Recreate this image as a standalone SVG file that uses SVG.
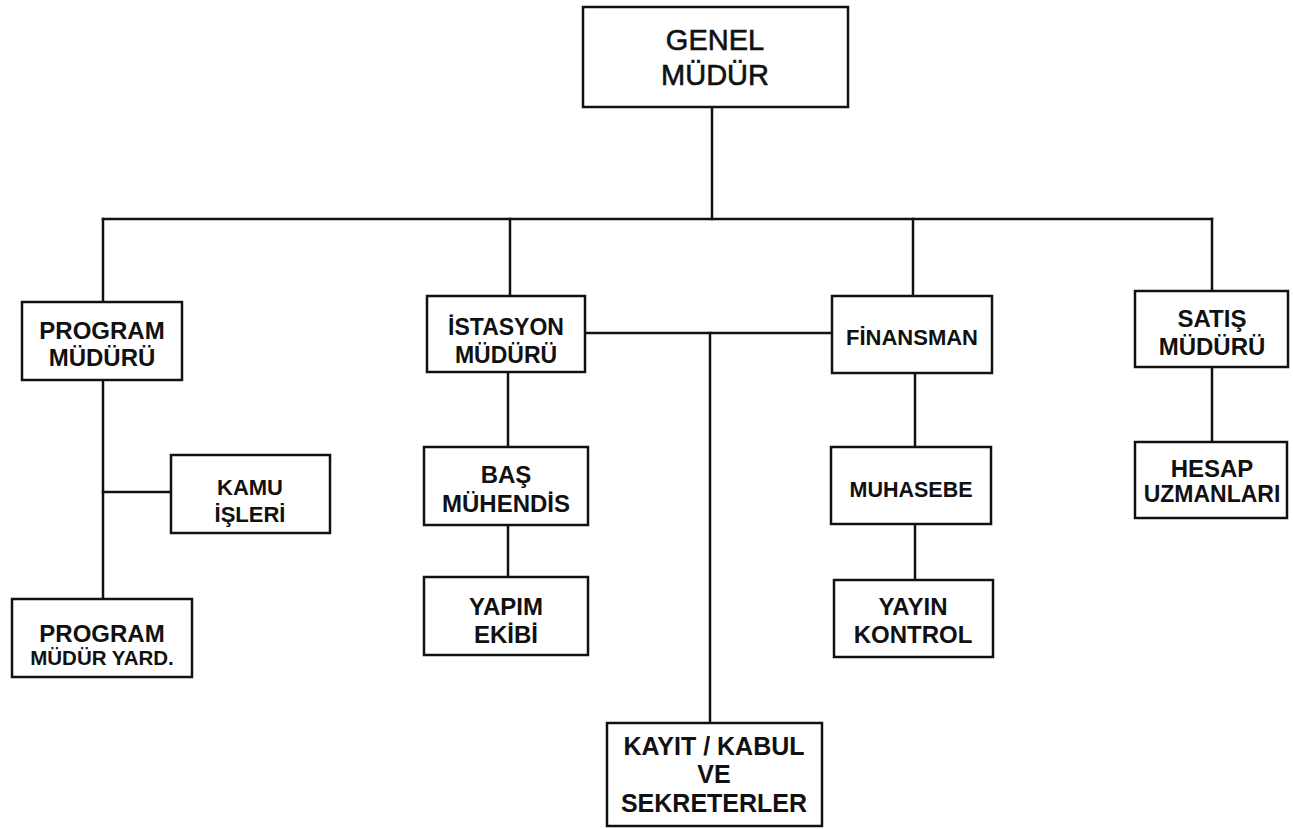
<svg xmlns="http://www.w3.org/2000/svg" width="1293" height="829" viewBox="0 0 1293 829">
  <style>
    .box { fill: #fff; stroke: #111; stroke-width: 2.5; }
    .wire { fill: none; stroke: #111; stroke-width: 2.5; stroke-linecap: square; }
    text { font-family: "Liberation Sans", Arial, sans-serif; font-weight: bold; fill: #111; text-anchor: middle; font-size: 23px; }
    .big { font-size: 29px; font-weight: normal; stroke: #111; stroke-width: 0.6; }
    .s21 { font-size: 21.5px; }
    .s22 { font-size: 22px; }
    .s24 { font-size: 24px; }
    .s25 { font-size: 25px; }
  </style>
  <rect width="1293" height="829" fill="#fff"/>

  <!-- connectors -->
  <g id="connectors" class="wire">
    <line x1="712" y1="107" x2="712" y2="219"/>
    <line x1="103" y1="219" x2="1212" y2="219"/>
    <line x1="103" y1="219" x2="103" y2="302"/>
    <line x1="510" y1="219" x2="510" y2="296"/>
    <line x1="913" y1="219" x2="913" y2="296"/>
    <line x1="1212" y1="219" x2="1212" y2="291"/>
    <!-- programme branch -->
    <line x1="103" y1="380" x2="103" y2="599"/>
    <line x1="103" y1="492" x2="171" y2="492"/>
    <!-- station / finance link and reception -->
    <line x1="585" y1="333" x2="832" y2="333"/>
    <line x1="710" y1="333" x2="710" y2="723"/>
    <!-- engineering column -->
    <line x1="508" y1="372" x2="508" y2="447"/>
    <line x1="508" y1="525" x2="508" y2="577"/>
    <!-- accounting column -->
    <line x1="915" y1="373" x2="915" y2="447"/>
    <line x1="915" y1="524" x2="915" y2="580"/>
    <!-- sales column -->
    <line x1="1212" y1="367" x2="1212" y2="442"/>
  </g>

  <g id="genel-mudur">
    <rect class="box" x="583" y="7" width="265" height="100"/>
    <text class="big" x="715" y="50">GENEL</text>
    <text class="big" x="715" y="85">MÜDÜR</text>
  </g>

  <g id="program-muduru">
    <rect class="box" x="22" y="302" width="160" height="78"/>
    <text class="s24" x="102" y="339">PROGRAM</text>
    <text class="s24" x="102" y="366">MÜDÜRÜ</text>
  </g>

  <g id="kamu-isleri">
    <rect class="box" x="171" y="455" width="159" height="78"/>
    <text class="s22" x="250" y="495">KAMU</text>
    <text class="s22" x="250" y="522">İŞLERİ</text>
  </g>

  <g id="program-mudur-yard">
    <rect class="box" x="12" y="599" width="180" height="78"/>
    <text class="s24" x="102" y="642">PROGRAM</text>
    <text x="102" y="665" style="font-size:20.5px">MÜDÜR YARD.</text>
  </g>

  <g id="istasyon-muduru">
    <rect class="box" x="427" y="296" width="158" height="76"/>
    <text x="506" y="335">İSTASYON</text>
    <text x="506" y="363">MÜDÜRÜ</text>
  </g>

  <g id="bas-muhendis">
    <rect class="box" x="424" y="447" width="164" height="78"/>
    <text class="s24" x="506" y="483">BAŞ</text>
    <text class="s24" x="506" y="512">MÜHENDİS</text>
  </g>

  <g id="yapim-ekibi">
    <rect class="box" x="424" y="577" width="164" height="78"/>
    <text class="s24" x="506" y="615">YAPIM</text>
    <text class="s24" x="506" y="643">EKİBİ</text>
  </g>

  <g id="finansman">
    <rect class="box" x="832" y="296" width="160" height="77"/>
    <text class="s22" x="912" y="345">FİNANSMAN</text>
  </g>

  <g id="muhasebe">
    <rect class="box" x="831" y="447" width="160" height="77"/>
    <text class="s21" x="911" y="497">MUHASEBE</text>
  </g>

  <g id="yayin-kontrol">
    <rect class="box" x="834" y="580" width="159" height="77"/>
    <text class="s24" x="913" y="615">YAYIN</text>
    <text class="s24" x="913" y="643">KONTROL</text>
  </g>

  <g id="satis-muduru">
    <rect class="box" x="1135" y="291" width="153" height="76"/>
    <text class="s24" x="1212" y="327">SATIŞ</text>
    <text class="s24" x="1212" y="355">MÜDÜRÜ</text>
  </g>

  <g id="hesap-uzmanlari">
    <rect class="box" x="1135" y="442" width="152" height="76"/>
    <text class="s24" x="1212" y="477">HESAP</text>
    <text x="1212" y="502">UZMANLARI</text>
  </g>

  <g id="kayit-kabul">
    <rect class="box" x="607" y="723" width="215" height="103"/>
    <text class="s25" x="714" y="755">KAYIT / KABUL</text>
    <text class="s25" x="714" y="783">VE</text>
    <text class="s25" x="714" y="812">SEKRETERLER</text>
  </g>
</svg>
